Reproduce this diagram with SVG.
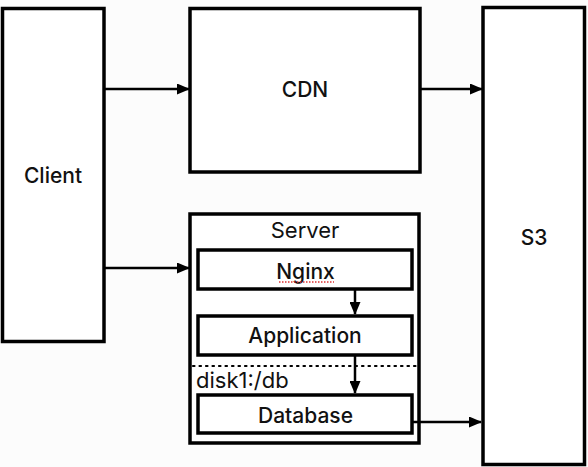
<svg xmlns="http://www.w3.org/2000/svg" width="588" height="467" viewBox="0 0 588 467">
<style>
.box{fill:#fff;stroke:#000;stroke-width:3.5}
.lbl{font-family:Inter,"Liberation Sans",Arial,sans-serif;font-size:21px;font-weight:500;text-anchor:middle;fill:#111}
.reg{font-family:Inter,"Liberation Sans",Arial,sans-serif;font-size:22px;font-weight:400;fill:#111}
.conn{stroke:#000;stroke-width:2.5;fill:none}
</style>
<defs>
<marker id="ah" markerWidth="13" markerHeight="11" refX="12" refY="5.5" orient="auto" markerUnits="userSpaceOnUse">
<path d="M0,0 L13,5.5 L0,11 Z" fill="#000"/>
</marker>
</defs>
<rect width="588" height="467" fill="#fcfcfc"/>
<g id="client">
<rect class="box" x="2.5" y="8.5" width="101.5" height="333"/>
<text class="lbl" x="53" y="183">Client</text>
</g>
<g id="cdn">
<rect class="box" x="190" y="8.5" width="230" height="163.5"/>
<text class="lbl" x="305" y="97">CDN</text>
</g>
<g id="s3">
<rect class="box" x="483" y="7.5" width="101.5" height="457"/>
<text class="lbl" x="534" y="245">S3</text>
</g>
<g id="server">
<rect class="box" x="190" y="214" width="229" height="229"/>
<text class="reg" x="305" y="237.5" text-anchor="middle">Server</text>
<line x1="193" y1="366" x2="416" y2="366" stroke="#000" stroke-width="2.2" stroke-dasharray="1.5 5" stroke-linecap="round"/>
<text class="reg" x="196" y="387.5">disk1:/db</text>
</g>
<g id="nginx">
<rect class="box" x="198" y="250" width="214" height="39"/>
<text class="lbl" x="305.5" y="279">Nginx</text>
<line x1="279" y1="282" x2="334" y2="282" stroke="#d33" stroke-width="1.3" stroke-dasharray="1.5 1.5"/>
</g>
<g id="application">
<rect class="box" x="198" y="316" width="214" height="39"/>
<text class="lbl" x="305" y="343">Application</text>
</g>
<g id="database">
<rect class="box" x="198" y="395" width="214" height="38"/>
<text class="lbl" x="305.5" y="423">Database</text>
</g>
<g id="connectors">
<line class="conn" x1="105" y1="89" x2="189" y2="89" marker-end="url(#ah)"/>
<line class="conn" x1="105" y1="268" x2="189" y2="268" marker-end="url(#ah)"/>
<line class="conn" x1="421" y1="89" x2="482" y2="89" marker-end="url(#ah)"/>
<line class="conn" x1="355" y1="290" x2="355" y2="314" marker-end="url(#ah)"/>
<line class="conn" x1="355" y1="356" x2="355" y2="393" marker-end="url(#ah)"/>
<line class="conn" x1="412" y1="422" x2="481" y2="422" marker-end="url(#ah)"/>
</g>
</svg>
